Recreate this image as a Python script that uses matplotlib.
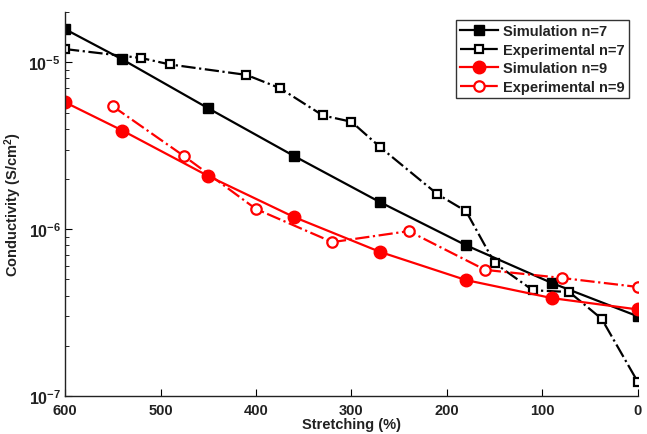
import matplotlib
matplotlib.use("Agg")
import matplotlib.pyplot as plt
from matplotlib.ticker import LogLocator, FixedLocator, NullFormatter

plt.rcParams['font.family'] = ['Liberation Sans', 'DejaVu Sans']
plt.rcParams['font.weight'] = 'bold'
plt.rcParams['mathtext.fontset'] = 'custom'
plt.rcParams['mathtext.rm'] = 'Liberation Sans:bold'
plt.rcParams['mathtext.bf'] = 'Liberation Sans:bold'
plt.rcParams['mathtext.it'] = 'Liberation Sans:bold'

sim7_x = [600, 540, 450, 360, 270, 180, 90, 0]
sim7_y = [1.58e-5, 1.04e-5, 5.3e-6, 2.74e-6, 1.45e-6, 8.0e-7, 4.75e-7, 3.0e-7]

exp7_x = [600, 520, 490, 410, 375, 330, 300, 270, 210, 180, 150, 110, 72, 38, 0]
exp7_y = [1.2e-5, 1.06e-5, 9.7e-6, 8.4e-6, 7.0e-6, 4.8e-6, 4.4e-6, 3.1e-6,
          1.62e-6, 1.28e-6, 6.25e-7, 4.3e-7, 4.2e-7, 2.9e-7, 1.21e-7]

sim9_x = [600, 540, 450, 360, 270, 180, 90, 0]
sim9_y = [5.76e-6, 3.9e-6, 2.08e-6, 1.18e-6, 7.3e-7, 4.95e-7, 3.86e-7, 3.3e-7]

exp9_x = [550, 475, 400, 320, 240, 160, 80, 0]
exp9_y = [5.45e-6, 2.73e-6, 1.32e-6, 8.36e-7, 9.73e-7, 5.7e-7, 5.1e-7, 4.5e-7]

labels = ['Simulation n=7', 'Experimental n=7', 'Simulation n=9', 'Experimental n=9']
x_ticks = [600, 500, 400, 300, 200, 100, 0]
y_ticks = [1e-7, 1e-6, 1e-5]
y_tick_labels = [r'$\mathbf{10^{-7}}$', r'$\mathbf{10^{-6}}$', r'$\mathbf{10^{-5}}$']

fig = plt.figure(figsize=(6.47, 4.35), dpi=100)
ax = fig.add_axes([0.1005, 0.0874, 0.8855, 0.8826])

ax.plot(sim7_x, sim7_y, '-', color='black', lw=1.6, marker='s', ms=7.5,
        mfc='black', mec='black', label=labels[0])
ax.plot(exp7_x, exp7_y, '-.', color='black', lw=1.6, marker='s', ms=6,
        mfc='white', mec='black', mew=1.6, label=labels[1])
ax.plot(sim9_x, sim9_y, '-', color='red', lw=1.6, marker='o', ms=9,
        mfc='red', mec='red', label=labels[2])
ax.plot(exp9_x, exp9_y, '-.', color='red', lw=1.6, marker='o', ms=7.5,
        mfc='white', mec='red', mew=1.6, label=labels[3])

ax.set_yscale('log')
ax.set_xlim(600, 0)
ax.set_ylim(1e-7, 2e-5)
ax.set_xticks(x_ticks)
ax.set_xticklabels([str(t) for t in x_ticks])
ax.yaxis.set_major_locator(FixedLocator(y_ticks))
ax.set_yticklabels(y_tick_labels)
ax.yaxis.set_minor_locator(LogLocator(base=10, subs=range(2, 10)))
ax.yaxis.set_minor_formatter(NullFormatter())

ax.spines['top'].set_visible(False)
ax.spines['right'].set_visible(False)
for s in ['left', 'bottom']:
    ax.spines[s].set_color('#222222')
    ax.spines[s].set_linewidth(1.0)

ax.tick_params(axis='both', which='both', direction='in', labelsize=10.5)
ax.tick_params(axis='y', which='major', labelsize=11.5, pad=3)
ax.tick_params(axis='x', which='major', pad=5)
ax.tick_params(axis='both', which='major', length=5)
ax.tick_params(axis='y', which='minor', length=3)
for lab in ax.get_xticklabels() + ax.get_yticklabels():
    lab.set_fontweight('bold')
    lab.set_color('#222222')

ax.set_xlabel('Stretching (%)', fontsize=10.5, fontweight='bold', labelpad=0, color='#222222')
ax.set_ylabel(r'Conductivity (S/cm$^2$)', fontsize=10.5, fontweight='bold', labelpad=3, color='#222222')

leg = ax.legend(loc='upper right', bbox_to_anchor=(0.984, 0.979), fontsize=10.5,
                frameon=True, fancybox=False, edgecolor='black', handlelength=2.6,
                borderpad=0.3, labelspacing=0.3, handletextpad=0.3, borderaxespad=0)
leg.get_frame().set_linewidth(1.0)
for t in leg.get_texts():
    t.set_fontweight('bold')
    t.set_color('#222222')

fig.savefig('out.png', dpi=100)
